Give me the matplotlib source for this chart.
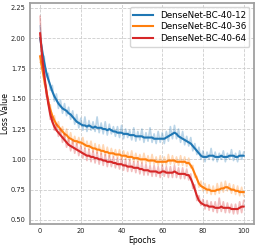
import matplotlib
matplotlib.use("Agg")
import matplotlib.pyplot as plt
import numpy as np

epochs = list(range(101))

labels = ["DenseNet-BC-40-12", "DenseNet-BC-40-36", "DenseNet-BC-40-64"]
colors = ["#1f77b4", "#ff7f0e", "#d62728"]

mean_12 = [2.00, 1.90, 1.80, 1.72, 1.66, 1.61, 1.56, 1.52, 1.49, 1.46,
           1.44, 1.42, 1.41, 1.40, 1.38, 1.37, 1.35, 1.33, 1.31, 1.30,
           1.29, 1.28, 1.28, 1.27, 1.28, 1.27, 1.26, 1.27, 1.26, 1.26,
           1.26, 1.25, 1.25, 1.24, 1.25, 1.24, 1.23, 1.23, 1.22, 1.22,
           1.22, 1.21, 1.21, 1.21, 1.20, 1.20, 1.20, 1.19, 1.19, 1.19,
           1.19, 1.18, 1.18, 1.18, 1.18, 1.18, 1.17, 1.17, 1.17, 1.17,
           1.17, 1.17, 1.18, 1.19, 1.20, 1.21, 1.22, 1.21, 1.19, 1.18,
           1.17, 1.16, 1.15, 1.14, 1.13, 1.11, 1.09, 1.07, 1.05, 1.03,
           1.02, 1.02, 1.02, 1.03, 1.03, 1.03, 1.02, 1.02, 1.02, 1.03,
           1.02, 1.02, 1.02, 1.03, 1.03, 1.03, 1.02, 1.02, 1.03, 1.03,
           1.03]

mean_36 = [1.85, 1.75, 1.66, 1.57, 1.48, 1.41, 1.36, 1.32, 1.29, 1.27,
           1.25, 1.23, 1.21, 1.20, 1.18, 1.17, 1.16, 1.15, 1.15, 1.14,
           1.14, 1.13, 1.12, 1.11, 1.11, 1.10, 1.09, 1.09, 1.08, 1.08,
           1.07, 1.07, 1.06, 1.06, 1.05, 1.05, 1.05, 1.04, 1.04, 1.04,
           1.03, 1.03, 1.03, 1.02, 1.02, 1.02, 1.01, 1.01, 1.01, 1.00,
           1.00, 1.00, 1.00, 0.99, 0.99, 0.99, 0.99, 0.98, 0.98, 0.98,
           0.98, 0.98, 0.98, 0.99, 0.99, 0.99, 0.99, 0.98, 0.98, 0.98,
           0.98, 0.98, 0.97, 0.97, 0.95, 0.92, 0.88, 0.84, 0.80, 0.78,
           0.77, 0.76, 0.75, 0.75, 0.74, 0.74, 0.74, 0.75, 0.75, 0.76,
           0.76, 0.77, 0.77, 0.76, 0.75, 0.75, 0.74, 0.74, 0.73, 0.73,
           0.73]

mean_64 = [2.04, 1.85, 1.70, 1.57, 1.46, 1.37, 1.31, 1.27, 1.24, 1.22,
           1.20, 1.18, 1.16, 1.14, 1.12, 1.11, 1.10, 1.09, 1.08, 1.07,
           1.06, 1.05, 1.04, 1.03, 1.03, 1.02, 1.02, 1.01, 1.01, 1.00,
           1.00, 0.99, 0.99, 0.98, 0.98, 0.98, 0.97, 0.97, 0.96, 0.96,
           0.96, 0.95, 0.95, 0.94, 0.94, 0.94, 0.93, 0.93, 0.93, 0.92,
           0.92, 0.91, 0.91, 0.91, 0.90, 0.90, 0.90, 0.90, 0.89, 0.89,
           0.90, 0.90, 0.89, 0.89, 0.89, 0.89, 0.90, 0.89, 0.88, 0.88,
           0.88, 0.88, 0.87, 0.87, 0.84, 0.80, 0.75, 0.70, 0.66, 0.64,
           0.63, 0.62, 0.62, 0.61, 0.61, 0.61, 0.60, 0.60, 0.60, 0.61,
           0.60, 0.60, 0.60, 0.60, 0.59, 0.59, 0.59, 0.59, 0.60, 0.61,
           0.61]

raw_12 = [2.10, 1.86, 1.85, 1.68, 1.71, 1.57, 1.61, 1.48, 1.54, 1.42,
          1.49, 1.38, 1.46, 1.36, 1.43, 1.33, 1.40, 1.29, 1.37, 1.26,
          1.34, 1.24, 1.35, 1.23, 1.32, 1.24, 1.31, 1.23, 1.35, 1.22,
          1.30, 1.21, 1.31, 1.20, 1.29, 1.21, 1.27, 1.19, 1.27, 1.18,
          1.28, 1.17, 1.25, 1.18, 1.24, 1.16, 1.26, 1.15, 1.23, 1.16,
          1.25, 1.14, 1.22, 1.15, 1.26, 1.14, 1.21, 1.13, 1.23, 1.14,
          1.22, 1.13, 1.23, 1.15, 1.27, 1.17, 1.28, 1.17, 1.25, 1.14,
          1.23, 1.12, 1.19, 1.11, 1.18, 1.07, 1.13, 1.04, 1.10, 1.00,
          1.07, 0.98, 1.06, 1.00, 1.09, 0.99, 1.06, 0.98, 1.05, 1.00,
          1.07, 0.98, 1.05, 1.00, 1.08, 0.99, 1.05, 0.98, 1.07, 1.00,
          1.06]

raw_36 = [1.80, 1.79, 1.62, 1.61, 1.45, 1.45, 1.33, 1.36, 1.26, 1.31,
          1.22, 1.27, 1.18, 1.25, 1.15, 1.22, 1.13, 1.19, 1.12, 1.18,
          1.11, 1.18, 1.09, 1.15, 1.08, 1.15, 1.06, 1.13, 1.05, 1.12,
          1.04, 1.12, 1.03, 1.10, 1.02, 1.09, 1.02, 1.08, 1.01, 1.08,
          1.00, 1.07, 1.00, 1.06, 0.99, 1.07, 0.98, 1.05, 0.98, 1.04,
          0.97, 1.05, 0.97, 1.03, 0.96, 1.04, 0.96, 1.02, 0.95, 1.03,
          0.95, 1.02, 0.95, 1.04, 0.96, 1.03, 0.96, 1.02, 0.95, 1.03,
          0.95, 1.02, 0.94, 1.01, 0.93, 0.95, 0.85, 0.86, 0.77, 0.82,
          0.74, 0.80, 0.72, 0.79, 0.71, 0.78, 0.71, 0.80, 0.72, 0.81,
          0.73, 0.82, 0.74, 0.80, 0.72, 0.79, 0.71, 0.78, 0.70, 0.77,
          0.70]

raw_64 = [2.18, 1.80, 1.74, 1.52, 1.50, 1.33, 1.35, 1.24, 1.29, 1.19,
          1.25, 1.14, 1.21, 1.10, 1.17, 1.07, 1.15, 1.05, 1.13, 1.03,
          1.11, 1.01, 1.09, 0.99, 1.08, 0.98, 1.07, 0.97, 1.06, 0.96,
          1.05, 0.95, 1.04, 0.94, 1.03, 0.94, 1.02, 0.93, 1.01, 0.92,
          1.01, 0.91, 1.00, 0.90, 0.99, 0.90, 0.98, 0.89, 0.98, 0.88,
          0.97, 0.87, 0.96, 0.87, 0.95, 0.86, 0.95, 0.86, 0.94, 0.85,
          0.95, 0.86, 0.94, 0.85, 0.94, 0.85, 0.95, 0.85, 0.93, 0.84,
          0.93, 0.84, 0.92, 0.83, 0.88, 0.76, 0.79, 0.66, 0.70, 0.62,
          0.67, 0.59, 0.66, 0.58, 0.65, 0.57, 0.65, 0.56, 0.68, 0.57,
          0.65, 0.56, 0.64, 0.56, 0.63, 0.55, 0.63, 0.55, 0.65, 0.56,
          0.66]

means = [mean_12, mean_36, mean_64]
raws = [raw_12, raw_36, raw_64]

x_ticks = [0, 20, 40, 60, 80, 100]
y_ticks = [0.50, 0.75, 1.00, 1.25, 1.50, 1.75, 2.00, 2.25]

fig = plt.figure(figsize=(2.58, 2.48), dpi=100)
ax = fig.add_axes([0.116, 0.097, 0.868, 0.891])

for m, r, c, lab in zip(means, raws, colors, labels):
    ax.plot(epochs, r, color=c, alpha=0.3, lw=1.2)
    ax.plot(epochs, m, color=c, lw=1.5, label=lab)

ax.set_xlim(-5, 105)
ax.set_ylim(0.467, 2.29)
ax.set_xticks(x_ticks)
ax.set_yticks(y_ticks)
ax.set_yticklabels([f"{v:.2f}" for v in y_ticks])
ax.tick_params(labelsize=4.8, length=0, pad=3, colors="#222222")
ax.grid(True, linestyle="--", color="#cccccc", lw=0.6)
ax.set_axisbelow(True)
for s in ax.spines.values():
    s.set_color("#a0a0a0")
    s.set_linewidth(1.3)
ax.set_xlabel("Epochs", fontsize=5.6, labelpad=1.5)
ax.set_ylabel("Loss Value", fontsize=5.6)
ax.yaxis.set_label_coords(-0.09, 0.5)
ax.legend(loc="upper right", fontsize=6.3, frameon=True, handlelength=2.2,
          borderpad=0.4, labelspacing=0.3, handletextpad=0.8,
          edgecolor="#cccccc")

fig.savefig("out.png", dpi=100)
